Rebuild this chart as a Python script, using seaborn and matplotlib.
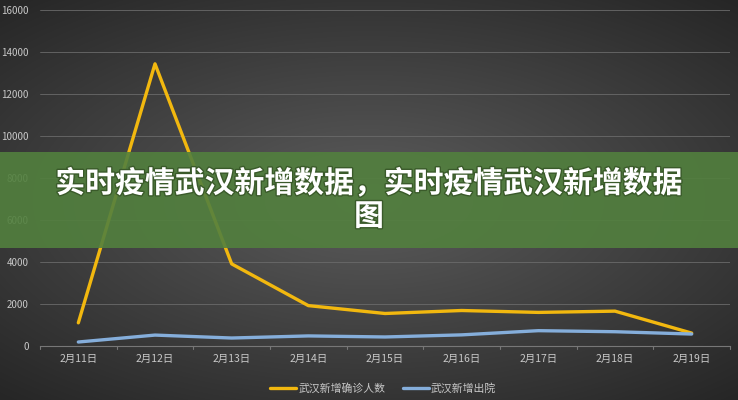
import numpy as np
import pandas as pd
import matplotlib
matplotlib.use("Agg")
import matplotlib.pyplot as plt
import matplotlib.patheffects as pe
from matplotlib.patches import Rectangle
import seaborn as sns

# 数据
dates = ["2月11日", "2月12日", "2月13日", "2月14日", "2月15日",
         "2月16日", "2月17日", "2月18日", "2月19日"]
confirmed = [1104, 13436, 3910, 1923, 1548, 1690, 1600, 1660, 615]
discharged = [190, 520, 380, 480, 430, 530, 730, 680, 570]
series_names = ["武汉新增确诊人数", "武汉新增出院"]
yticks = [0, 2000, 4000, 6000, 8000, 10000, 12000, 14000, 16000]
title = "实时疫情武汉新增数据，实时疫情武汉新增数据\n图"

df = pd.DataFrame({"date": dates * 2,
                   "value": confirmed + discharged,
                   "series": [series_names[0]] * 9 + [series_names[1]] * 9})

sns.set_style("dark")
plt.rcParams['font.family'] = ['Noto Sans CJK SC', 'DejaVu Sans']

fig = plt.figure(figsize=(7.38, 4.0), dpi=100)

# 背景渐变
bg = fig.add_axes([0, 0, 1, 1], zorder=-10)
yy, xx = np.mgrid[-1:1:400j, -1:1:738j]
r = np.sqrt((xx * 0.9) ** 2 + (yy * 1.0) ** 2)
grad = np.clip(1 - r / 1.35, 0, 1)
bg.imshow(grad, cmap=matplotlib.colors.LinearSegmentedColormap.from_list(
    "g", ["#262626", "#5c5c5c"]), aspect="auto", extent=[0, 1, 0, 1])
bg.set_axis_off()

ax = fig.add_axes([40 / 738, 54 / 400, 690 / 738, 336 / 400])
ax.set_facecolor("none")
df["x"] = df["date"].map({d: i for i, d in enumerate(dates)})
sns.lineplot(data=df, x="x", y="value", hue="series",
             palette=["#f2b80f", "#85aedb"], linewidth=2.4, ax=ax,
             legend=False, zorder=3)

ax.set_xlim(-0.5, len(dates) - 0.5)
ax.set_ylim(0, 16000)
ax.set_yticks(yticks)
ax.set_yticklabels([str(v) for v in yticks])
ax.set_xticks(range(len(dates)))
ax.set_xticklabels(dates)
ax.tick_params(colors="#c8c8c8", labelsize=7.5, length=0, pad=6)
ax.tick_params(axis="y", labelsize=7, pad=8)
ax.set_xlabel("")
ax.set_ylabel("")
ax.grid(axis="y", color="#6a6a6a", linewidth=0.6)
ax.grid(axis="x", visible=False)
for s in ["top", "right", "left"]:
    ax.spines[s].set_visible(False)
ax.spines["bottom"].set_color("#777777")
ax.spines["bottom"].set_linewidth(0.8)
# x轴小刻度分隔线
for i in range(len(dates) + 1):
    ax.plot([i - 0.5, i - 0.5], [0, -120], color="#777777", lw=0.8,
            clip_on=False)

# 图例
handles = [plt.Line2D([], [], color="#f2b80f", lw=2.4),
           plt.Line2D([], [], color="#85aedb", lw=2.4)]
fig.legend(handles, series_names, loc="center", bbox_to_anchor=(383 / 738, 12 / 400),
           ncol=2, frameon=False, fontsize=7.8, labelcolor="#c8c8c8",
           handlelength=2.4, handletextpad=0.2, columnspacing=1.6)

# 绿色横幅
fig.patches.append(Rectangle((0, 152 / 400), 1, 96 / 400, transform=fig.transFigure,
                             facecolor="#52803e", edgecolor="none", linewidth=0,
                             alpha=0.9, zorder=5))
fig.text(0.5, 200 / 400, title, ha="center", va="center", color="white",
         fontsize=21.5, fontweight="bold", linespacing=1.12, zorder=6,
         path_effects=[pe.withStroke(linewidth=2, foreground="#3a5a2a")])

fig.savefig("out.png", dpi=100)
